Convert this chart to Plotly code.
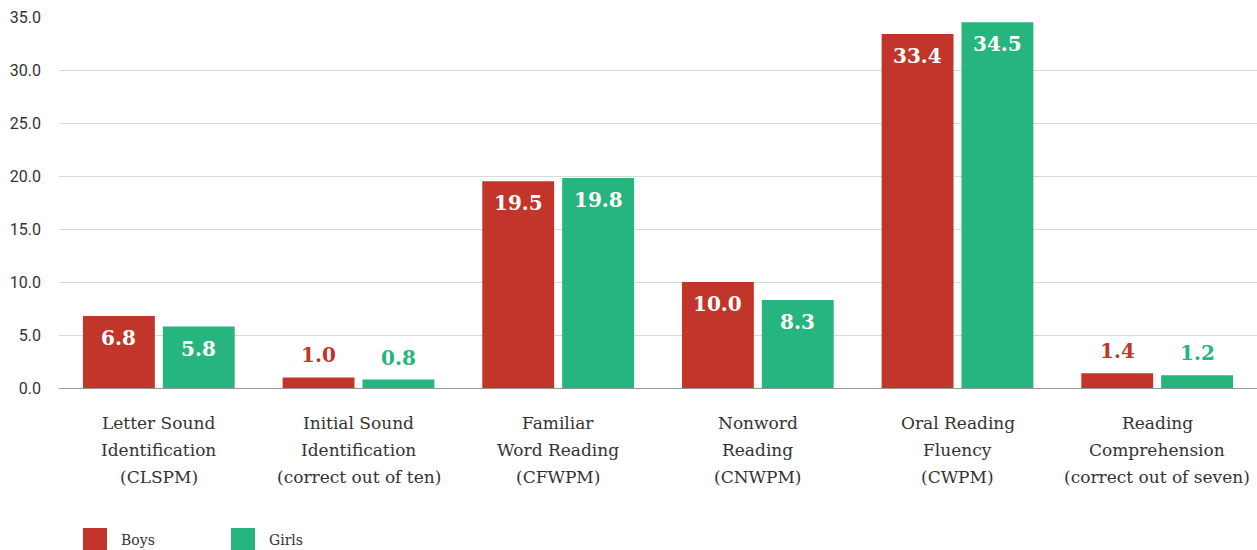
import plotly.graph_objects as go

categories = [
    "Letter Sound Identification (CLSPM)",
    "Initial Sound Identification (correct out of ten)",
    "Familiar Word Reading (CFWPM)",
    "Nonword Reading (CNWPM)",
    "Oral Reading Fluency (CWPM)",
    "Reading Comprehension (correct out of seven)",
]
category_lines = [
    ["Letter Sound", "Identification", "(CLSPM)"],
    ["Initial Sound", "Identification", "(correct out of ten)"],
    ["Familiar", "Word Reading", "(CFWPM)"],
    ["Nonword", "Reading", "(CNWPM)"],
    ["Oral Reading", "Fluency", "(CWPM)"],
    ["Reading", "Comprehension", "(correct out of seven)"],
]
series_names = ["Boys", "Girls"]
boys = [6.8, 1.0, 19.5, 10.0, 33.4, 1.4]
girls = [5.8, 0.8, 19.8, 8.3, 34.5, 1.2]
y_ticks = [0, 5, 10, 15, 20, 25, 30, 35]

colors = ["#C1352A", "#26B57E"]
label_font = "DejaVu Serif"

fig = go.Figure()
for name, vals, col in zip(series_names, [boys, girls], colors):
    fig.add_trace(go.Bar(x=categories, y=vals, name=name, marker_color=col,
                         marker_line_width=0, showlegend=False))

annotations = []
# value labels: white inside tall bars, coloured above short ones
for i, (vals, col) in enumerate(zip([boys, girls], colors)):
    xshift = -40 if i == 0 else 40
    for cat, v in zip(categories, vals):
        inside = v >= 5
        annotations.append(dict(
            x=cat, y=v, xref="x", yref="y", text=f"{v:.1f}", showarrow=False,
            xshift=xshift, yshift=-22 if inside else 22,
            font=dict(family=label_font, size=20, color="white" if inside else col,
                      weight="bold"),
        ))

# category captions, three lines each with wide leading
for cat, lines in zip(categories, category_lines):
    for k, line in enumerate(lines):
        annotations.append(dict(
            x=cat, y=0, xref="x", yref="y", text=line, showarrow=False,
            yshift=-(35 + 27 * k), yanchor="middle",
            font=dict(family=label_font, size=17, color="#333333"),
        ))

# legend row beneath the axis
shapes = []
legend_x = [83, 231]
for name, col, lx in zip(series_names, colors, legend_x):
    shapes.append(dict(type="rect", xref="paper", yref="paper",
                       x0=(lx - 59) / 1198, x1=(lx + 24 - 59) / 1198,
                       y0=(388 - 550) / 371, y1=(388 - 528) / 371,
                       fillcolor=col, line_width=0, layer="above"))
    annotations.append(dict(x=(lx + 36 - 59) / 1198, y=(388 - 540) / 371,
                            xref="paper", yref="paper", text=name, showarrow=False,
                            xanchor="left", yanchor="middle",
                            font=dict(family=label_font, size=14, color="#333333")))

fig.update_layout(
    width=1257, height=550,
    margin=dict(l=59, r=0, t=17, b=162),
    paper_bgcolor="white", plot_bgcolor="white",
    barmode="group", bargap=0.2, bargroupgap=0.1,
    annotations=annotations, shapes=shapes,
    font=dict(family="Roboto", color="#333333"),
)
fig.update_yaxes(range=[0, 35], tickvals=y_ticks, ticktext=[f"{t:.1f}" for t in y_ticks],
                 showgrid=True, gridcolor="#D9D9D9", gridwidth=1, zeroline=True,
                 zerolinecolor="#999999", zerolinewidth=1, showline=False,
                 tickfont=dict(family="Roboto", size=16, color="#333333"),
                 ticklabelstandoff=17)
fig.update_xaxes(showline=False, ticks="", showticklabels=False)

fig.write_html("out.html")
